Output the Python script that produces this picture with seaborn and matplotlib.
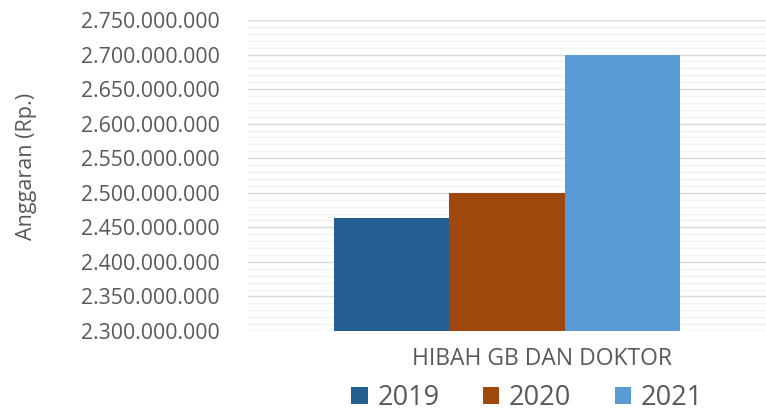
import matplotlib
matplotlib.use("Agg")
import matplotlib.pyplot as plt
import matplotlib.ticker as mticker
import seaborn as sns
import pandas as pd
from matplotlib.patches import Patch

categories = ["HIBAH GB DAN DOKTOR"]
years = ["2019", "2020", "2021"]
values = [2463000000, 2500000000, 2700000000]
colors = ["#255E91", "#9E480E", "#5B9BD5"]

sns.set_theme(style="white")
plt.rcParams["font.family"] = ["Open Sans", "DejaVu Sans"]
txt = "#595959"

df = pd.DataFrame({"cat": categories * len(years), "year": years, "val": values})

fig = plt.figure(figsize=(7.66, 4.12), dpi=100)
ax = fig.add_axes([248/766, 1-331/412, 518/766, 311/412])

sns.barplot(data=df, x="cat", y="val", hue="year", palette=colors,
            width=0.668, ax=ax, legend=False, saturation=1, zorder=3,
            linewidth=0, edgecolor="none")

ax.set_ylim(2300000000, 2750000000)
ax.set_xlim(-0.5, 0.5)
ax.yaxis.set_major_locator(mticker.MultipleLocator(50000000))
ax.yaxis.set_minor_locator(mticker.MultipleLocator(10000000))
ax.yaxis.set_major_formatter(mticker.FuncFormatter(lambda v, p: f"{int(round(v)):,}".replace(",", ".")))
ax.grid(axis="y", which="major", color="#D9D9D9", linewidth=1.0, zorder=0)
ax.grid(axis="y", which="minor", color="#F2F2F2", linewidth=1.0, zorder=0)
ax.set_axisbelow(True)
for s in ax.spines.values():
    s.set_visible(False)
ax.tick_params(axis="y", which="both", length=0, labelsize=15.3, labelcolor=txt, pad=20.5)
ax.set_xticks([])
ax.set_xlabel("")
ax.set_ylabel("Anggaran (Rp.)", fontsize=15.5, color=txt)
ax.yaxis.set_label_coords(-(248-37)/518, 0.53)

ax.text((542-248)/518, (331-359)/311, categories[0], transform=ax.transAxes,
        ha="center", va="center", fontsize=16.5, color=txt)

handles = [Patch(facecolor=c, edgecolor="none") for c in colors]
fig.legend(handles, years, loc="center", bbox_to_anchor=(527/766, 1-398/412), ncol=3,
           frameon=False, fontsize=19.5, labelcolor=txt, handlelength=0.62, handleheight=0.62,
           handletextpad=0.35, columnspacing=1.6, borderaxespad=0)

fig.savefig("out.png", dpi=100)
